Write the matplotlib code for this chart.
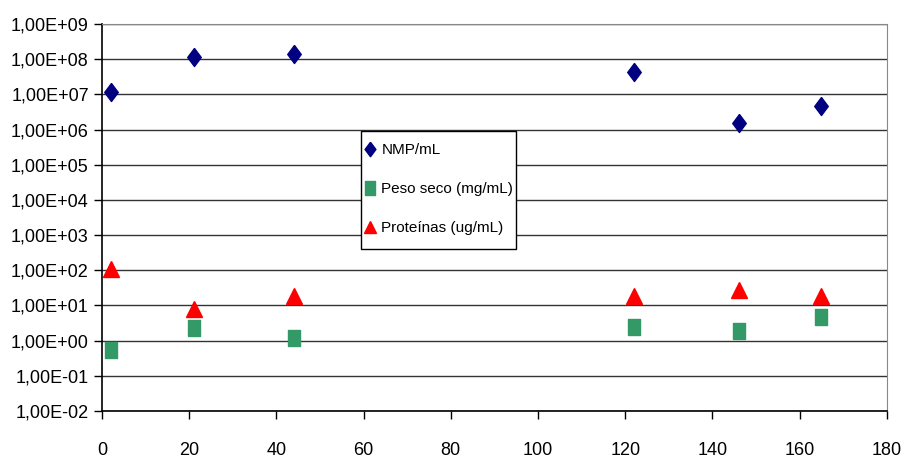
import matplotlib.pyplot as plt
import matplotlib.ticker as mticker
from matplotlib.patches import Rectangle

plt.rcParams['font.family'] = ['Liberation Sans Narrow', 'Liberation Sans', 'DejaVu Sans']

dias = [2, 21, 44, 122, 146, 165]
nmp = [1.2e7, 1.15e8, 1.4e8, 4.3e7, 1.5e6, 4.7e6]
peso_seco = [0.55, 2.3, 1.2, 2.5, 1.9, 4.8]
proteinas = [110, 8, 19, 19, 28, 19]

diamante = [(0, 1), (0.75, 0), (0, -1), (-0.75, 0), (0, 1)]
retangulo = [(-0.7, -1), (0.7, -1), (0.7, 1), (-0.7, 1), (-0.7, -1)]


def rotulo(v, p):
    s = "%.2E" % v
    mant, exp = s.split("E")
    return mant.replace(".", ",") + "E" + exp[0] + exp[1:].zfill(2)


fig = plt.figure(figsize=(9.04, 4.59), dpi=100)
ax = fig.add_axes([0.1128, 0.1046, 0.981 - 0.1128, 0.9477 - 0.1046])

ax.plot(dias, nmp, linestyle="none", marker=diamante, markersize=13,
        color="#000080", label="NMP/mL")
ax.plot(dias, peso_seco, linestyle="none", marker=retangulo, markersize=12,
        color="#339966", label="Peso seco (mg/mL)")
ax.plot(dias, proteinas, linestyle="none", marker="^", markersize=11,
        color="#FF0000", label="Proteínas (ug/mL)")

ax.set_yscale("log")
ax.set_ylim(1e-2, 1e9)
ax.set_xlim(0, 180)
ax.set_xticks(range(0, 181, 20))
ax.set_yticks([10.0 ** k for k in range(-2, 10)])
ax.yaxis.set_minor_locator(mticker.NullLocator())
ax.yaxis.set_major_formatter(mticker.FuncFormatter(rotulo))
ax.grid(axis="y", color="#333333", linewidth=1)
ax.set_axisbelow(True)

ax.spines["left"].set_color("black")
ax.spines["bottom"].set_color("black")
ax.spines["left"].set_linewidth(1.2)
ax.spines["bottom"].set_linewidth(1.2)
ax.spines["right"].set_color("#888888")
ax.spines["top"].set_color("#888888")
ax.tick_params(axis="both", labelsize=13, length=6, width=1, direction="out")
ax.tick_params(axis="x", pad=16)

# caixa da legenda desenhada à parte
caixa = Rectangle((0.33, 0.4186), 0.5274 - 0.33, 0.7235 - 0.4186, transform=ax.transAxes,
                  facecolor="white", edgecolor="black", linewidth=1, zorder=4)
ax.add_patch(caixa)
leg = ax.legend(loc="center left", bbox_to_anchor=(0.3287, 0.5735), frameon=False,
                fontsize=11, labelspacing=1.63, handlelength=0.7,
                handletextpad=0.4, borderpad=0.3, borderaxespad=0, markerscale=0.8)
leg.set_zorder(5)

fig.savefig("out.png", dpi=100)
